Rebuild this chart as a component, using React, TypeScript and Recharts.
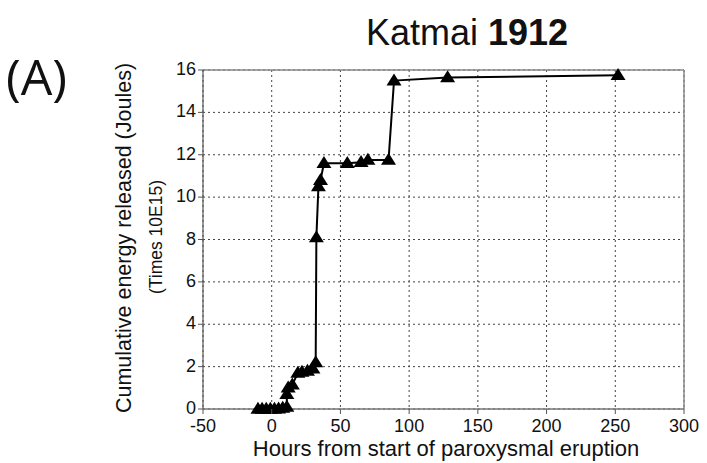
import React from 'react';
import { ScatterChart, Scatter, XAxis, YAxis, CartesianGrid, ReferenceLine } from 'recharts';

const hours = [-10, -7, -4, -1, 2, 5, 8, 11, 11, 12, 15, 19, 22, 26, 30, 32, 32.5, 34, 35.5, 38, 55, 65, 70, 85, 89, 128, 252];
const energy = [0, 0, 0, 0, 0, 0.02, 0.05, 0.1, 0.7, 1.0, 1.15, 1.7, 1.75, 1.8, 1.9, 2.2, 8.1, 10.5, 10.8, 11.6, 11.6, 11.65, 11.75, 11.75, 15.5, 15.65, 15.75];
const xTicks = [-50, 0, 50, 100, 150, 200, 250, 300];
const yTicks = [0, 2, 4, 6, 8, 10, 12, 14, 16];

const data = hours.map((h, i) => ({ x: h, y: energy[i] }));

const FONT = '"Liberation Sans", Arial, Helvetica, sans-serif';

const Tri = (props: any) => {
  const { cx, cy } = props;
  if (cx == null || cy == null) return null;
  const w = 7.5;
  const h = 12;
  return (
    <polygon
      points={`${cx},${cy - h * 0.6} ${cx - w},${cy + h * 0.4} ${cx + w},${cy + h * 0.4}`}
      fill="#000"
    />
  );
};

const XTick = (props: any) => {
  const { x, y, payload } = props;
  return (
    <g>
      <line x1={x} x2={x} y1={y - 2} y2={y - 7} stroke="#555" strokeWidth={1} />
      <text x={x} y={y + 16} textAnchor="middle" fontSize={18} fontFamily={FONT} fill="#111">
        {payload.value}
      </text>
    </g>
  );
};

const YTick = (props: any) => {
  const { x, y, payload } = props;
  return (
    <g>
      <line x1={x + 2} x2={x + 7} y1={y} y2={y} stroke="#555" strokeWidth={1} />
      <text x={x} y={y + 5} textAnchor="end" fontSize={18} fontFamily={FONT} fill="#111">
        {payload.value}
      </text>
    </g>
  );
};

export default function App() {
  return (
    <div style={{ position: 'absolute', left: 0, top: 0, width: 707, height: 463, background: '#fff' }}>
      <ScatterChart width={707} height={463} margin={{ top: 70, right: 23, bottom: 25, left: 143 }}>
        <CartesianGrid stroke="#444" strokeDasharray="2 3" strokeWidth={1} />
        <XAxis
          type="number"
          dataKey="x"
          domain={[-50, 300]}
          ticks={xTicks}
          interval={0}
          height={29}
          axisLine={{ stroke: '#777', strokeWidth: 1.5 }}
          tickLine={false}
          tickSize={0}
          tickMargin={7}
          tick={<XTick />}
        />
        <YAxis
          type="number"
          dataKey="y"
          domain={[0, 16]}
          ticks={yTicks}
          interval={0}
          width={60}
          axisLine={{ stroke: '#555', strokeWidth: 1.2 }}
          tickLine={false}
          tickSize={0}
          tickMargin={7}
          tick={<YTick />}
        />
        <ReferenceLine y={16} stroke="#888" strokeWidth={1.5} />
        <ReferenceLine x={300} stroke="#888" strokeWidth={1.5} />
        <Scatter
          data={data}
          line={{ stroke: '#000', strokeWidth: 2 }}
          lineType="joint"
          shape={<Tri />}
          isAnimationActive={false}
        />
      </ScatterChart>
      <div style={{ position: 'absolute', left: 366, top: 12, fontFamily: FONT, fontSize: 36, color: '#111', whiteSpace: 'nowrap', lineHeight: '42px' }}>
        Katmai <span style={{ fontWeight: 'bold' }}>1912</span>
      </div>
      <div style={{ position: 'absolute', left: 6, top: 44, fontFamily: '"Open Sans", "Noto Sans", sans-serif', fontSize: 50, color: '#111', lineHeight: '64px' }}>
        (A)
      </div>
      <div style={{ position: 'absolute', left: 124, top: 238, width: 0, height: 0 }}>
        <div style={{ position: 'absolute', transform: 'translate(-50%, -50%) rotate(-90deg)', fontFamily: FONT, fontSize: 21.5, color: '#111', whiteSpace: 'nowrap' }}>
          Cumulative energy released (Joules)
        </div>
      </div>
      <div style={{ position: 'absolute', left: 156, top: 237, width: 0, height: 0 }}>
        <div style={{ position: 'absolute', transform: 'translate(-50%, -50%) rotate(-90deg)', fontFamily: FONT, fontSize: 17.5, color: '#111', whiteSpace: 'nowrap' }}>
          (Times 10E15)
        </div>
      </div>
      <div style={{ position: 'absolute', left: 446, top: 449, width: 0, height: 0 }}>
        <div style={{ position: 'absolute', transform: 'translate(-50%, -50%)', fontFamily: FONT, fontSize: 22, color: '#111', whiteSpace: 'nowrap' }}>
          Hours from start of paroxysmal eruption
        </div>
      </div>
    </div>
  );
}
